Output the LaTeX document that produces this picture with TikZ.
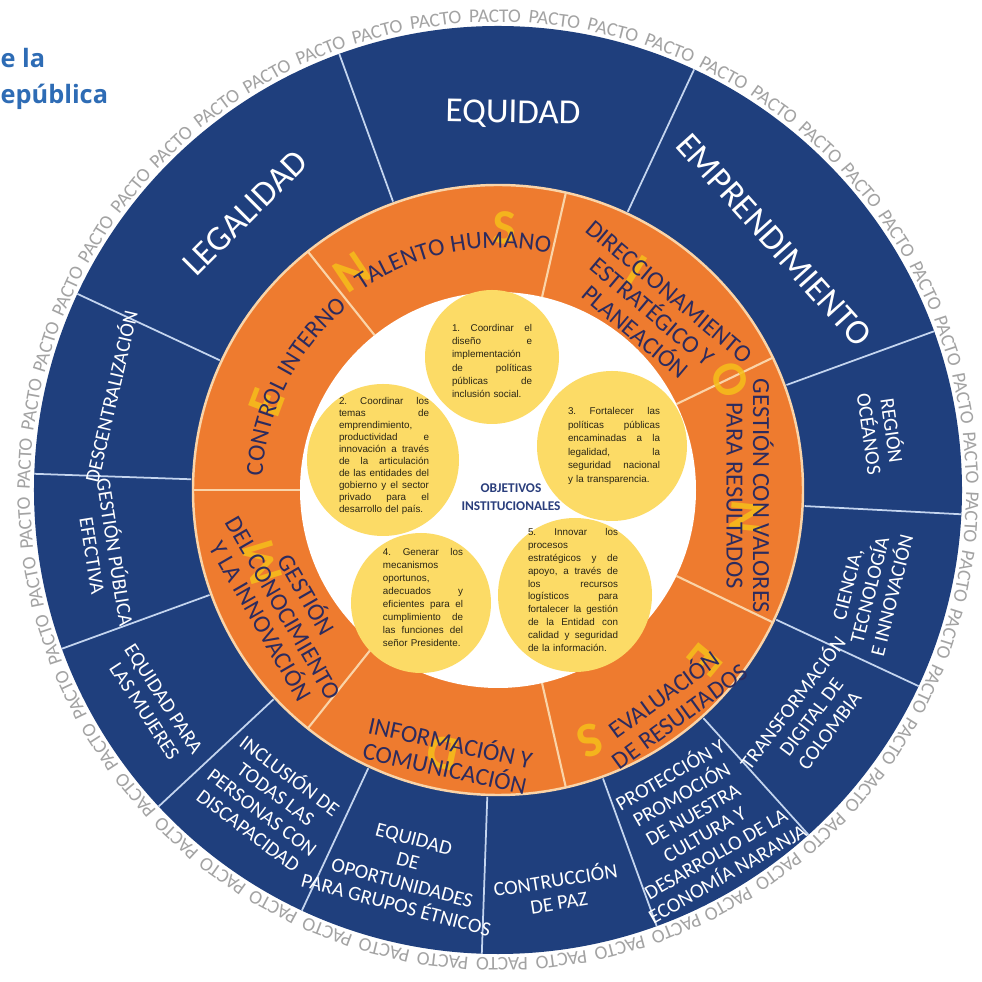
\documentclass[tikz,border=0pt]{standalone}
\usepackage{fontspec}
\setmainfont{Carlito}
\newfontfamily\objfont{Liberation Sans}
\newfontfamily\headfont{Open Sans}
\usepackage{xcolor}
\usetikzlibrary{decorations.text}
\definecolor{pactoblue}{HTML}{1F3F7D}
\definecolor{pactoorange}{HTML}{EE7B2F}
\definecolor{navytext}{HTML}{2C2B5E}
\definecolor{circyellow}{HTML}{FCDB66}
\definecolor{decoyellow}{HTML}{F6BE1A}
\definecolor{bluerule}{HTML}{C4D5EF}
\definecolor{orangerule}{HTML}{FAD4A8}
\definecolor{pactogray}{HTML}{A3A3A3}
\definecolor{headblue}{HTML}{2E6CB5}
\definecolor{objtextcol}{HTML}{2A2515}
\definecolor{objblue}{HTML}{2A3E7C}
\newcommand{\dimfont}{\fontsize{7}{7.5}\selectfont}

\begin{document}
\begin{tikzpicture}[
  bigsector/.style={text=white, font=\fontsize{10}{12}\selectfont, inner sep=0pt},
  smallsector/.style={text=white, font=\fontsize{5.8}{6.5}\selectfont, align=center, inner sep=0pt},
  dimension/.style={text=navytext, font=\dimfont, align=center, inner sep=0pt},
  dimletter/.style={text=decoyellow, font=\fontsize{14}{14}\selectfont\bfseries, opacity=0.85, inner sep=0pt},
  curvedlabel/.style={decorate, decoration={text along path, text align=center, text={|\dimfont\color{navytext}|#1}}},
  objcircle/.style={circle, fill=circyellow, inner sep=0pt, minimum size=#1},
  objtext/.style={text=objtextcol, font=\objfont\fontsize{2.8}{#1}\selectfont, align=left, inner sep=0pt},
  pacto/.style={text=pactogray, font=\fontsize{5.5}{5.5}\selectfont, inner sep=0pt},
  headtext/.style={text=headblue, font=\headfont\bfseries\fontsize{7.2}{8}\selectfont, inner sep=0pt, anchor=base west}
]
\useasboundingbox (-4.98,-4.92) rectangle (4.83,4.90);
\fill[white] (-4.98,-4.92) rectangle (4.83,4.90);

\node[headtext] (hd1) at (-4.98,4.22) {e la};
\node[headtext] (hd2) at (-4.98,3.86) {epública};

\foreach \k in {0,...,49}{
  \pgfmathsetmacro{\ang}{-67.9-7.205*\k}
  \node[pacto, rotate=\ang-90] (p\k) at (\ang:4.74) {PACTO};
}

\fill[pactoblue] (0,0) circle (4.64);
\fill[pactoorange] (0,0) circle (3.05);
\draw[orangerule, line width=0.7pt] (0,0) circle (3.05);
\fill[white] (0,0) circle (1.98);

\foreach \a in {155,110,65,20,-3,-25,-48,-70,-92,-115,-137,-160,-182}
  \draw[bluerule, line width=0.5pt] (\a:3.07) -- (\a:4.64);
\foreach \a in {0,...,6}
  \draw[orangerule, line width=0.6pt] ({180-\a*51.43}:1.98) -- ({180-\a*51.43}:3.05);

\node[bigsector, rotate=45] (leg) at (-2.53,2.77) {LEGALIDAD};
\node[bigsector, rotate=-1] (equ) at (0.15,3.76) {EQUIDAD};
\node[bigsector, rotate=-48] (emp) at (2.76,2.50) {EMPRENDIMIENTO};

\node[smallsector, rotate=77] (desc) at (-3.88,0.94) {DESCENTRALIZACIÓN};
\node[smallsector, rotate=-81] (gpe) at (-3.93,-0.64) {GESTIÓN PÚBLICA\\EFECTIVA};
\node[smallsector, rotate=-57] (muj) at (-3.44,-2.15) {EQUIDAD PARA\\LAS MUJERES};
\node[smallsector, rotate=-37] (incl) at (-2.28,-3.12) {INCLUSIÓN DE\\TODAS LAS\\PERSONAS CON\\DISCAPACIDAD};
\node[smallsector, rotate=-15] (etn) at (-0.93,-3.82) {EQUIDAD\\DE\\OPORTUNIDADES\\PARA GRUPOS ÉTNICOS};
\node[smallsector, rotate=9] (paz) at (0.59,-4.00) {CONTRUCCIÓN\\DE PAZ};
\node[smallsector, rotate=30] (nar) at (2.00,-3.33) {PROTECCIÓN Y\\PROMOCIÓN\\DE NUESTRA\\CULTURA Y\\DESARROLLO DE LA\\ECONOMÍA NARANJA};
\node[smallsector, rotate=53] (dig) at (3.12,-2.26) {TRANSFORMACIÓN\\DIGITAL DE\\COLOMBIA};
\node[smallsector, rotate=76] (cti) at (3.72,-1.00) {CIENCIA,\\TECNOLOGÍA\\E INNOVACIÓN};
\node[smallsector, rotate=-82] (oce) at (3.84,0.58) {REGIÓN\\OCÉANOS};

\node[dimletter, rotate=-1.5] (l1) at (0.07,2.62) {S};
\node[dimletter, rotate=-32] (l2) at (1.39,2.20) {I};
\node[dimletter, rotate=-64.6] (l3) at (2.32,1.10) {O};
\node[dimletter, rotate=-96] (l4) at (2.49,-0.27) {N};
\node[dimletter, rotate=-129.4] (l5) at (2.07,-1.70) {E};
\node[dimletter, rotate=-159.8] (l6) at (0.92,-2.50) {S};
\node[dimletter, rotate=168.2] (l7) at (-0.55,-2.63) {D};
\node[dimletter, rotate=107] (l8) at (-2.36,-0.73) {M};
\node[dimletter, rotate=69.4] (l9) at (-2.31,0.87) {E};
\node[dimletter, rotate=33.8] (l10) at (-1.46,2.18) {N};

\path[curvedlabel=TALENTO HUMANO] (128:2.42) arc[start angle=128, end angle=74, radius=2.42];
\path[curvedlabel=CONTROL INTERNO] (180:2.36) arc[start angle=180, end angle=126, radius=2.36];
\node[dimension, rotate=-40] (dir) at (1.54,1.78) {DIRECCIONAMIENTO\\ESTRATÉGICO Y\\PLANEACIÓN};
\node[dimension, rotate=-90] (gval) at (2.52,-0.06) {GESTIÓN CON VALORES\\PARA RESULTADOS};
\node[dimension, rotate=36] (eval) at (1.73,-2.14) {EVALUACIÓN\\DE RESULTADOS};
\node[dimension, rotate=-12.5] (info) at (-0.50,-2.64) {INFORMACIÓN Y\\COMUNICACIÓN};
\node[dimension, rotate=-60] (gcon) at (-2.13,-1.17) {GESTIÓN\\DEL CONOCIMIENTO\\Y LA INNOVACIÓN};

\node[objcircle=1.34cm] (c1) at (-0.06,1.33) {};
\node[objcircle=1.52cm] (c2) at (-1.15,0.30) {};
\node[objcircle=1.50cm] (c3) at (1.14,0.44) {};
\node[objcircle=1.40cm] (c4) at (-0.77,-1.13) {};
\node[objcircle=1.54cm] (c5) at (0.77,-1.05) {};

\node[objtext=3.8, text width=0.80cm] (t1) at (-0.06,1.29) {1.\hfill Coordinar\hfill el\\diseño\hfill e\\implementación\\de\hfill políticas\\públicas\hfill de\\inclusión social.};
\node[objtext=3.4, text width=0.90cm] (t2) at (-1.14,0.34) {2.\hfill Coordinar\hfill los\\temas\hfill de\\emprendimiento,\\productividad\hfill e\\innovación\hfill a\hfill través\\de\hfill la\hfill articulación\\de\hfill las\hfill entidades\hfill del\\gobierno\hfill y\hfill el\hfill sector\\privado\hfill para\hfill el\\desarrollo del país.};
\node[objtext=3.85, text width=0.92cm] (t3) at (1.16,0.44) {3.\hfill Fortalecer\hfill las\\políticas\hfill públicas\\encaminadas\hfill a\hfill la\\legalidad,\hfill la\\seguridad\hfill nacional\\y la transparencia.};
\node[objtext=3.7, text width=0.80cm] (t4) at (-0.75,-1.07) {4.\hfill Generar\hfill los\\mecanismos\\oportunos,\\adecuados\hfill y\\eficientes\hfill para\hfill el\\cumplimiento\hfill de\\las\hfill funciones\hfill del\\señor Presidente.};
\node[objtext=3.64, text width=0.90cm] (t5) at (0.75,-1.00) {5.\hfill Innovar\hfill los\\procesos\\estratégicos\hfill y\hfill de\\apoyo,\hfill a\hfill través\hfill de\\los\hfill recursos\\logísticos\hfill para\\fortalecer\hfill la\hfill gestión\\de\hfill la\hfill Entidad\hfill con\\calidad\hfill y\hfill seguridad\\de la información.};

\node[text=objblue, font=\bfseries\fontsize{3.8}{5}\selectfont, align=center, inner sep=0pt] (obj) at (0.13,-0.07) {OBJETIVOS\\INSTITUCIONALES};
\end{tikzpicture}
\end{document}
